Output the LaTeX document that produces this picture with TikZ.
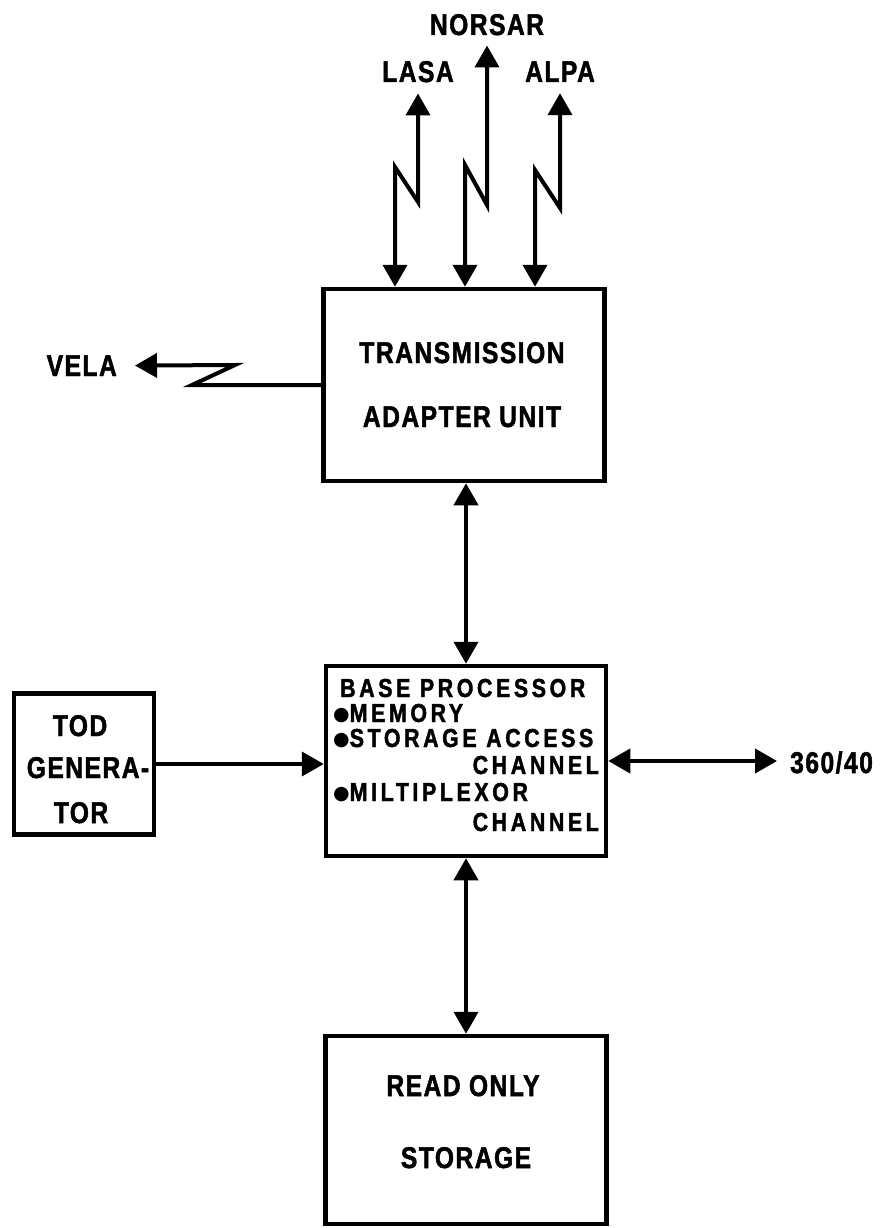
\documentclass[tikz,border=0pt]{standalone}
\usepackage{fontspec}
\setmainfont{Liberation Sans}
\newfontfamily\lblA{Liberation Sans}[FakeStretch=0.82,LetterSpace=5,FakeBold=1.6]
\newfontfamily\lblB{Liberation Sans}[FakeStretch=0.82,LetterSpace=14,FakeBold=1.6]
\newfontfamily\symf{DejaVu Sans}
\newcommand{\blt}{\raisebox{1.5pt}{\symf\fontsize{19}{19}\selectfont ●}}
\usetikzlibrary{arrows.meta,calc}
\begin{document}
\begin{tikzpicture}[x=1pt,y=-1pt,
  box/.style={draw, line width=4.5pt, inner sep=0pt},
  big/.style={font={\lblA\bfseries\fontsize{30}{32}\selectfont}, inner sep=0pt, anchor=base},
  small/.style={font={\lblB\bfseries\fontsize{26}{28}\selectfont}, inner sep=0pt},
  tipA/.tip={Triangle[length=22pt,width=24pt]},
  conn/.style={line width=4pt, line join=miter},
  biarrow/.style={conn, tipA-tipA},
  onearrow/.style={conn, -tipA}]
\useasboundingbox (0,0) rectangle (894,1228);
% boxes
\node[box, minimum width=281pt, minimum height=192pt] (tau) at (464,385) {};
\node[box, minimum width=280pt, minimum height=190pt] (bp) at (466,761) {};
\node[box, minimum width=140pt, minimum height=141pt] (tod) at (84,764) {};
\node[box, minimum width=281pt, minimum height=188pt] (ros) at (466,1130) {};
% box texts
\node[big] (t1) at (462,363) {TRANSMISSION};
\node[big] (t2) at (462,427) {ADAPTER UNIT};
\node[big] (r1) at (463,1096) {READ ONLY};
\node[big] (r2) at (466,1168) {STORAGE};
\node[big] (g1) at (80,736) {TOD};
\node[big] (g2) at (88,778) {GENERA-};
\node[big] (g3) at (81,823) {TOR};
\node[small, anchor=base west] (b1) at (340,697) {BASE PROCESSOR};
\node[small, anchor=base west] (b2) at (333,722) {\blt MEMORY};
\node[small, anchor=base west] (b3) at (333,747) {\blt STORAGE ACCESS};
\node[small, anchor=base east] (b4) at (599,774) {CHANNEL};
\node[small, anchor=base west] (b5) at (333,801) {\blt MILTIPLEXOR};
\node[small, anchor=base east] (b6) at (599,831) {CHANNEL};
% outside labels
\node[big] (norsar) at (487,35) {NORSAR};
\node[big] (lasa) at (418,82) {LASA};
\node[big] (alpa) at (560,82) {ALPA};
\node[big, anchor=base east] (vela) at (117,376) {VELA};
\node[big, anchor=base west] (l360) at (790,773) {360/40};
% antenna links
\draw[biarrow, shorten <=11pt] (lasa.south) -- (lasa.south |- 0,202) -- (395,167) -- (395,0 |- tau.north);
\draw[biarrow, shorten <=10pt] (norsar.south) -- (norsar.south |- 0,205) -- (465,165) -- (465,0 |- tau.north);
\draw[biarrow, shorten <=11pt] (alpa.south) -- (alpa.south |- 0,208) -- (535,170) -- (535,0 |- tau.north);
% VELA link
\draw[onearrow, shorten >=18pt] (tau.west) -- (192,385) -- (235,365) -- (vela.east);
% vertical links
\draw[biarrow] (bp.north |- tau.south) -- (bp.north);
\draw[biarrow] (bp.south) -- (bp.south |- ros.north);
% horizontal links
\draw[onearrow] (tod.east) -- (tod.east -| bp.west);
\draw[biarrow, shorten >=13pt] (bp.east) -- (bp.east -| l360.west);
\end{tikzpicture}
\end{document}
